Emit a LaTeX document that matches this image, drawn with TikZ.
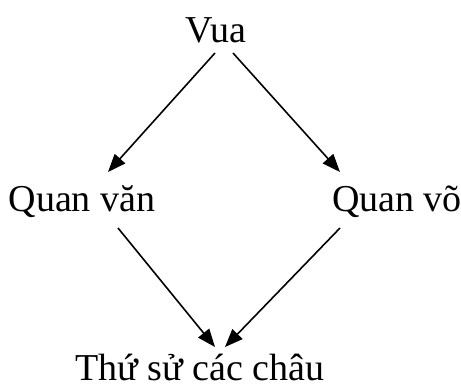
\documentclass[tikz,border=0pt]{standalone}
\usepackage{fontspec}
\setmainfont{Liberation Serif}
\usetikzlibrary{arrows.meta}

\begin{document}
\begin{tikzpicture}[x=0.5pt,y=-0.5pt,
  lbl/.style={anchor=base,inner sep=0pt,font=\fontsize{19}{22}\selectfont},
  arr/.style={line width=0.8pt,-{Triangle[length=9pt,width=7pt]}}]
\useasboundingbox (0,0) rectangle (461,386);
\node[lbl] (vua) at (216,42) {Vua};
\node[lbl] (qvan) at (82,211) {Quan văn};
\node[lbl] (qvo) at (397,211) {Quan võ};
\node[lbl] (thu) at (200,380) {Thứ sử các châu};
\draw[arr] ([shift={(-1,11)}]vua.base) -- ([shift={(26,-39)}]qvan.base);
\draw[arr] ([shift={(17,11)}]vua.base) -- ([shift={(-57,-39)}]qvo.base);
\draw[arr] ([shift={(36,17)}]qvan.base) -- ([shift={(15,-33)}]thu.base);
\draw[arr] ([shift={(-57,17)}]qvo.base) -- ([shift={(25,-33)}]thu.base);
\end{tikzpicture}
\end{document}
